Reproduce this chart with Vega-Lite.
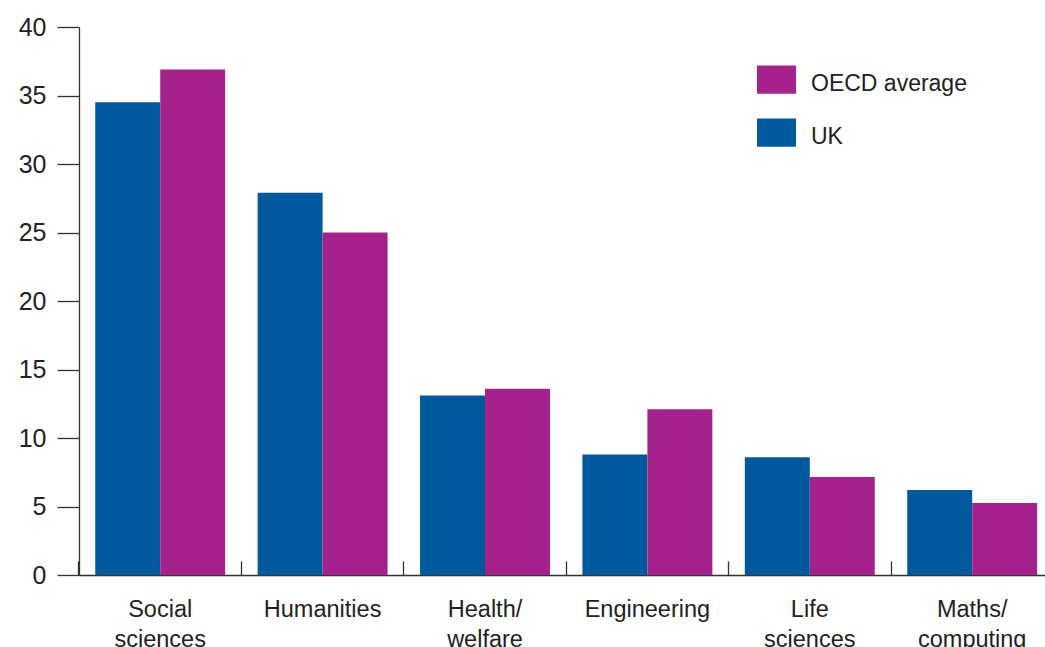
{
  "$schema": "https://vega.github.io/schema/vega-lite/v6.json",
  "width": 966,
  "height": 548,
  "autosize": "none",
  "padding": {"left": 79, "top": 27, "right": 0, "bottom": 72},
  "background": "white",
  "config": {
    "view": {"stroke": null},
    "font": "Liberation Sans",
    "axis": {"labelFont": "Liberation Sans", "labelColor": "#222", "domainColor": "#333", "tickColor": "#333", "domainWidth": 1.3, "tickWidth": 1.3, "grid": false, "title": null}
  },
  "data": {
    "values": [
      {"field": "Social sciences", "series": "UK", "value": 34.5},
      {"field": "Social sciences", "series": "OECD average", "value": 36.9},
      {"field": "Humanities", "series": "UK", "value": 27.9},
      {"field": "Humanities", "series": "OECD average", "value": 25.0},
      {"field": "Health/ welfare", "series": "UK", "value": 13.1},
      {"field": "Health/ welfare", "series": "OECD average", "value": 13.6},
      {"field": "Engineering", "series": "UK", "value": 8.8},
      {"field": "Engineering", "series": "OECD average", "value": 12.1},
      {"field": "Life sciences", "series": "UK", "value": 8.6},
      {"field": "Life sciences", "series": "OECD average", "value": 7.15},
      {"field": "Maths/ computing", "series": "UK", "value": 6.2},
      {"field": "Maths/ computing", "series": "OECD average", "value": 5.25}
    ]
  },
  "mark": {"type": "bar"},
  "encoding": {
    "x": {
      "field": "field",
      "type": "nominal",
      "sort": null,
      "scale": {"range": [0, 974.4], "paddingInner": 0, "paddingOuter": 0},
      "axis": {
        "bandPosition": 0,
        "tickSize": -14,
        "labelAngle": 0,
        "labelFontSize": 23.5,
        "labelPadding": 36,
        "labelBaseline": "top",
        "labelLineHeight": 30,
        "labelExpr": "split(datum.label, ' ')"
      }
    },
    "xOffset": {
      "field": "series",
      "type": "nominal",
      "sort": ["UK", "OECD average"],
      "scale": {"paddingOuter": 0.25, "paddingInner": 0}
    },
    "y": {
      "field": "value",
      "type": "quantitative",
      "scale": {"domain": [0, 40]},
      "axis": {
        "values": [0, 5, 10, 15, 20, 25, 30, 35, 40],
        "tickSize": 22,
        "labelFontSize": 25,
        "labelPadding": 11
      }
    },
    "color": {
      "field": "series",
      "type": "nominal",
      "scale": {"domain": ["OECD average", "UK"], "range": ["#a5228c", "#00599d"]},
      "legend": {
        "title": null,
        "orient": "none",
        "legendX": 678,
        "legendY": 37,
        "padding": 0,
        "symbolType": "M-1,-0.92H1V0.52H-1Z",
        "symbolSize": 1521,
        "symbolStrokeWidth": 0,
        "symbolOpacity": 1,
        "labelFontSize": 23,
        "labelFont": "Liberation Sans",
        "labelColor": "#222",
        "labelOffset": 15,
        "labelBaseline": "middle",
        "rowPadding": 21
      }
    }
  }
}
